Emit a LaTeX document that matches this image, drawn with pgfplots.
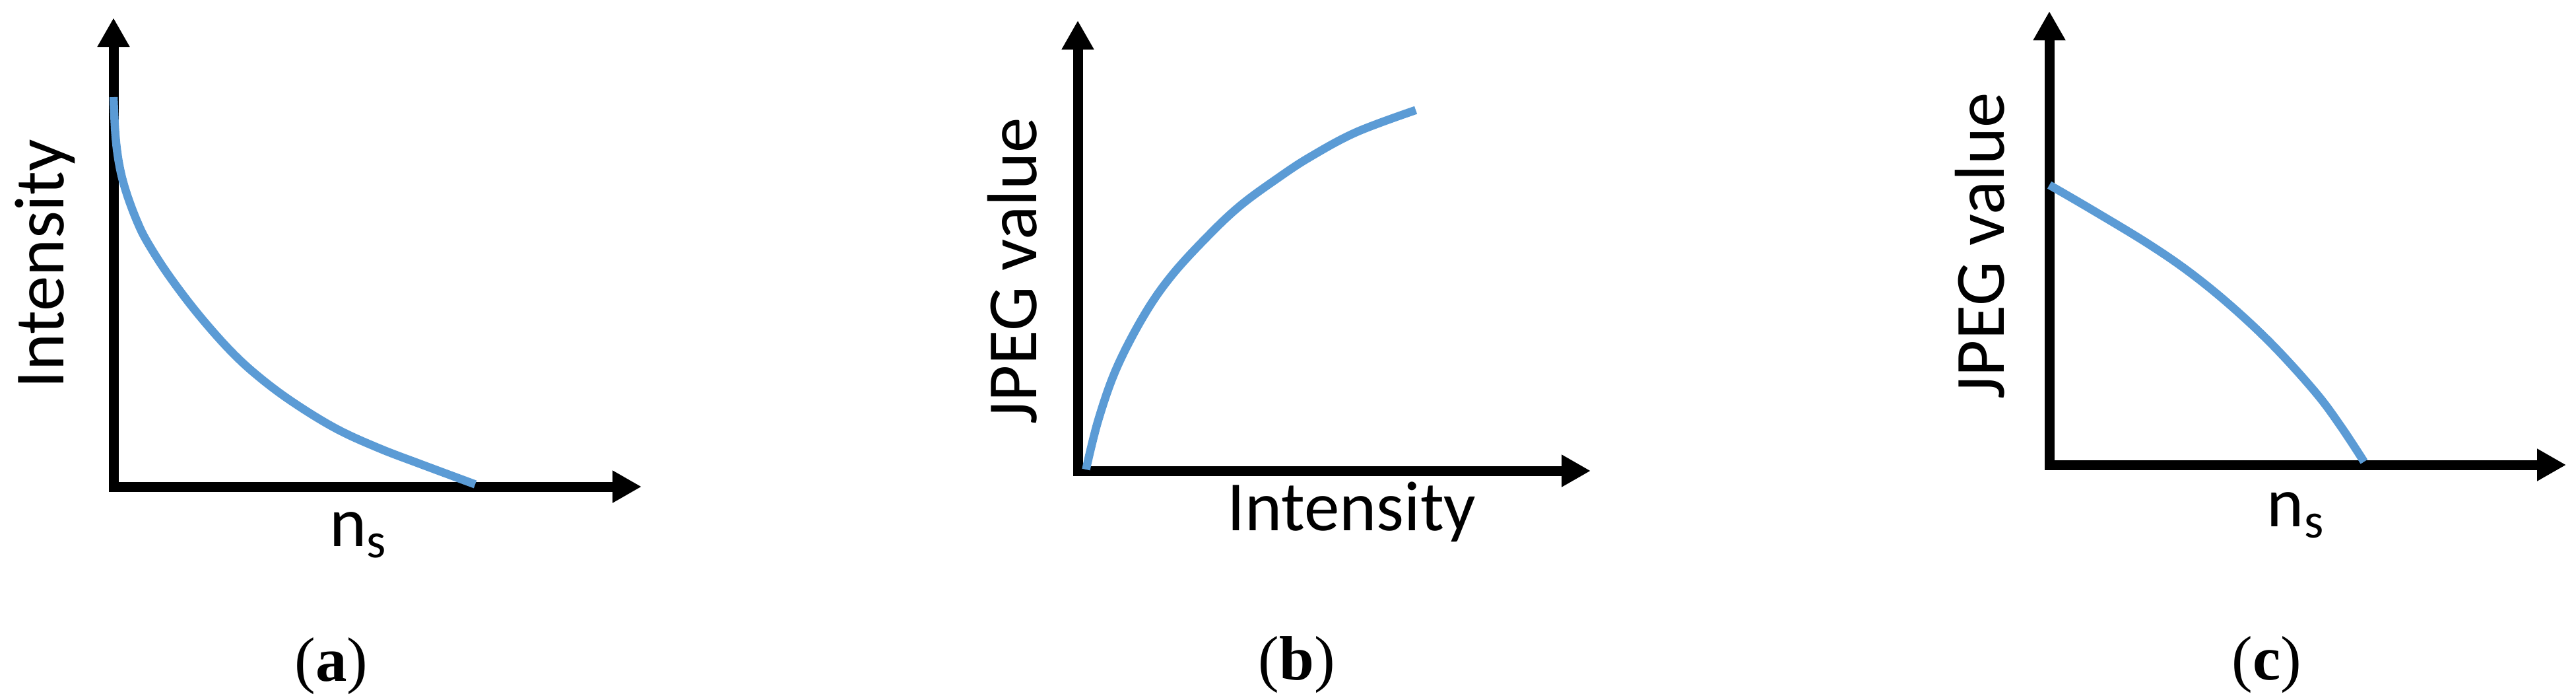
\documentclass[border=0pt]{standalone}
\usepackage{fontspec}
\setmainfont{Carlito}
\newfontfamily\capfont{Liberation Serif}
\usepackage{pgfplots}
\pgfplotsset{compat=1.18}
\usetikzlibrary{arrows.meta}

\definecolor{curveblue}{RGB}{91,155,213}

\pgfplotsset{
  sketch/.style={
    scale only axis,
    xmin=0, xmax=1, ymin=0, ymax=1,
    axis lines=left,
    ticks=none,
    clip=false,
    axis line style={line width=1.5pt, line cap=rect},
    every outer x axis line/.append style={-{Triangle[length=4.4pt,width=4.6pt]}},
    every outer y axis line/.append style={-{Triangle[length=4.4pt,width=4.6pt]}},
    label style={font=\fontsize{10.7}{12}\selectfont},
  },
  curve/.style={color=curveblue, line width=1.25pt, smooth, tension=0.6, mark=none},
}

\begin{document}
\begin{tikzpicture}
\path[use as bounding box] (0,0) rectangle (390.3pt,105.3pt);

% (a) intensity against n_s
\begin{axis}[sketch,
  at={(17.2pt,31.6pt)}, anchor=south west,
  width=80pt, height=71pt,
  xlabel={n\textsubscript{s}},
  ylabel={Intensity},
  xlabel style={at={(axis description cs:0.466,-0.103)}, anchor=center},
  ylabel style={at={(axis description cs:-0.094,0.475)}, anchor=base},
]
\addplot[curve] coordinates {
  (0.000,0.831) (0.004,0.745) (0.012,0.680) (0.025,0.625) (0.045,0.565)
  (0.065,0.520) (0.105,0.450) (0.161,0.367) (0.224,0.287) (0.280,0.230)
  (0.344,0.177) (0.423,0.123) (0.503,0.082) (0.582,0.048) (0.685,0.005)
};
\node[font=\capfont\fontsize{9.5}{11}\selectfont] at (axis description cs:0.4125,-0.382) {(\textbf{a})};
\end{axis}

% (b) JPEG value against intensity
\begin{axis}[sketch,
  at={(163.3pt,34.0pt)}, anchor=south west,
  width=77.7pt, height=68.2pt,
  xlabel={Intensity},
  ylabel={JPEG value},
  xlabel style={at={(axis description cs:0.534,-0.091)}, anchor=center},
  ylabel style={at={(axis description cs:-0.081,0.444)}, anchor=base},
]
\addplot[curve] coordinates {
  (0.016,0.003) (0.040,0.113) (0.076,0.229) (0.130,0.347) (0.184,0.435)
  (0.256,0.524) (0.318,0.590) (0.390,0.650) (0.453,0.697) (0.543,0.752)
  (0.659,0.801)
};
\node[font=\capfont\fontsize{9.5}{11}\selectfont] at (axis description cs:0.427,-0.430) {(\textbf{b})};
\end{axis}

% (c) JPEG value against n_s
\begin{axis}[sketch,
  at={(310.5pt,34.9pt)}, anchor=south west,
  width=78.3pt, height=68.7pt,
  xlabel={n\textsubscript{s}},
  ylabel={JPEG value},
  xlabel style={at={(axis description cs:0.479,-0.111)}, anchor=center},
  ylabel style={at={(axis description cs:-0.088,0.483)}, anchor=base},
]
\addplot[curve] coordinates {
  (0.000,0.617) (0.083,0.562) (0.189,0.489) (0.271,0.425) (0.352,0.350)
  (0.434,0.262) (0.515,0.160) (0.564,0.085) (0.609,0.007)
};
\node[font=\capfont\fontsize{9.5}{11}\selectfont] at (axis description cs:0.421,-0.440) {(\textbf{c})};
\end{axis}
\end{tikzpicture}
\end{document}
